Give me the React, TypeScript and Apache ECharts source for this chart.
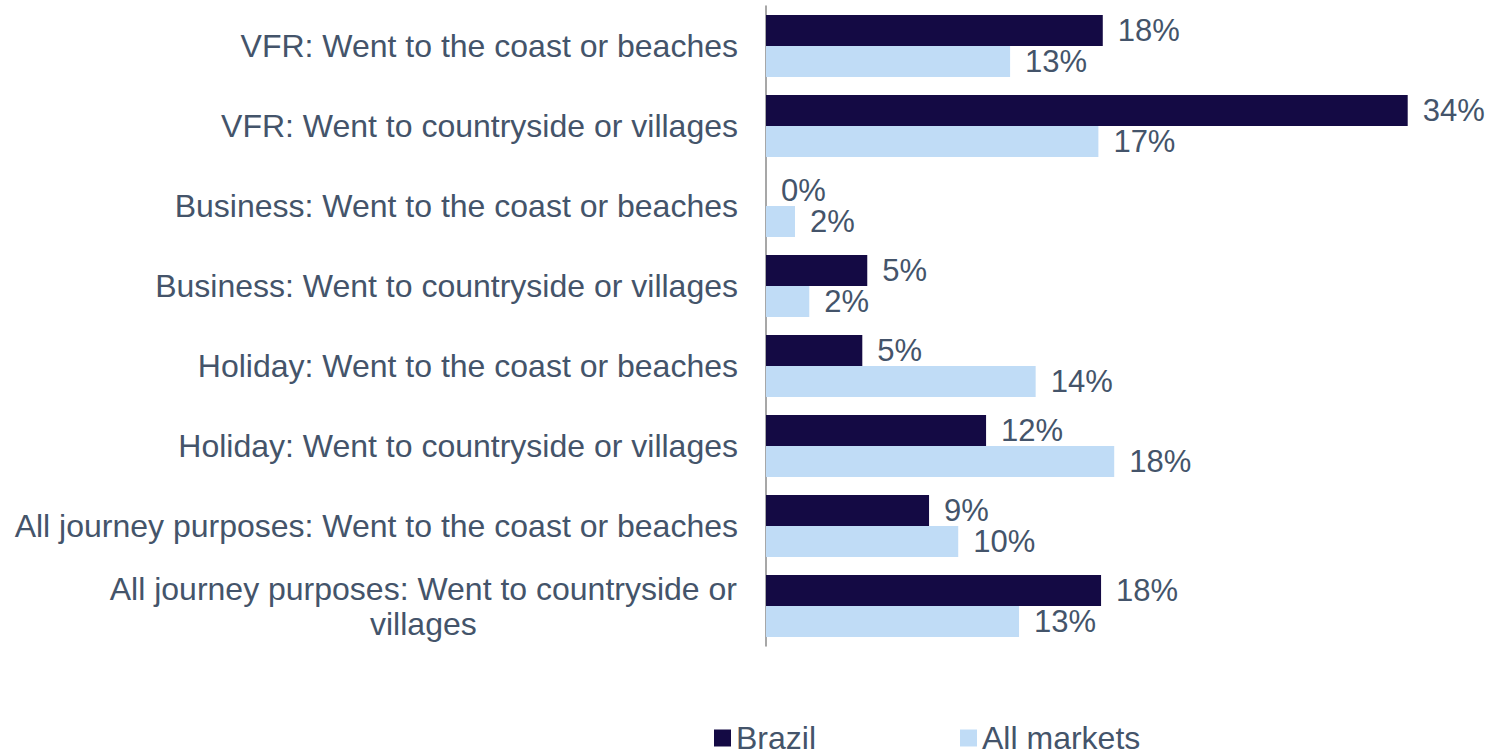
import React, { useEffect, useRef } from 'react';
import * as echarts from 'echarts';

const categories = [
  'VFR: Went to the coast or beaches',
  'VFR: Went to countryside or villages',
  'Business: Went to the coast or beaches',
  'Business: Went to countryside or villages',
  'Holiday: Went to the coast or beaches',
  'Holiday: Went to countryside or villages',
  'All journey purposes: Went to the coast or beaches',
  'All journey purposes: Went to countryside or villages',
];
const seriesNames = ['Brazil', 'All markets'];
const brazil = [17.66, 33.65, 0, 5.31, 5.05, 11.54, 8.55, 17.57];
const allMarkets = [12.8, 17.43, 1.52, 2.27, 14.14, 18.26, 10.08, 13.27];

const FONT = "'Liberation Sans', Arial, sans-serif";
const TEXT = '#44546A';
const DARK = '#140A44';
const LIGHT = '#C0DCF6';
const CAT_SIZE = 32;
const LABEL_SIZE = 31;
const MAX_LABEL_W = 735;

function measure(text: string, size: number): number {
  const ctx = document.createElement('canvas').getContext('2d');
  if (!ctx) return text.length * size * 0.5;
  ctx.font = `${size}px ${FONT}`;
  return ctx.measureText(text).width;
}

function wrapLabel(text: string, size: number, maxW: number): string[] {
  if (measure(text, size) <= maxW) return [text];
  const words = text.split(' ');
  const lines: string[] = [];
  let cur = '';
  for (const w of words) {
    const t = cur ? cur + ' ' + w : w;
    if (measure(t, size) > maxW && cur) {
      lines.push(cur);
      cur = w;
    } else cur = t;
  }
  lines.push(cur);
  return lines;
}

export default function App() {
  const ref = useRef<HTMLDivElement>(null);
  useEffect(() => {
    if (!ref.current) return;
    const chart = echarts.init(ref.current, null, { renderer: 'svg' });

    const rich: Record<string, any> = {};
    const formatted: Record<string, string> = {};
    categories.forEach((c, i) => {
      const lines = wrapLabel(c, CAT_SIZE, MAX_LABEL_W);
      if (lines.length === 1) {
        formatted[c] = c;
      } else {
        const w = Math.max(...lines.map((l) => measure(l, CAT_SIZE))) + 2;
        const key = 'w' + i;
        rich[key] = {
          width: w,
          align: 'center',
          fontSize: CAT_SIZE,
          lineHeight: 35,
          color: TEXT,
          fontFamily: FONT,
        };
        formatted[c] = lines.map((l) => `{${key}|${l}}`).join('\n');
      }
    });

    const labelOpt = {
      show: true,
      position: 'right',
      distance: 15,
      fontSize: LABEL_SIZE,
      fontFamily: FONT,
      color: TEXT,
      formatter: (p: any) => Math.round(p.value) + '%',
    };

    chart.setOption({
      animation: false,
      textStyle: { fontFamily: FONT },
      grid: { left: 766, top: 6, width: 35 * 19.07, height: 640, containLabel: false },
      xAxis: {
        type: 'value',
        min: 0,
        max: 35,
        show: false,
        splitLine: { show: false },
      },
      yAxis: {
        type: 'category',
        inverse: true,
        data: categories,
        axisLine: { show: true, lineStyle: { color: '#8A8A8A', width: 1.5 } },
        axisTick: { show: false },
        axisLabel: {
          margin: 28,
          fontSize: CAT_SIZE,
          fontFamily: FONT,
          color: TEXT,
          lineHeight: 35,
          formatter: (v: string) => formatted[v] ?? v,
          rich,
        },
      },
      legend: {
        data: seriesNames,
        left: 714,
        top: 722,
        padding: 0,
        icon: 'rect',
        itemWidth: 17,
        itemHeight: 17,
        itemGap: 144,
        textStyle: { fontSize: CAT_SIZE, color: TEXT, fontFamily: FONT },
      },
      series: [
        {
          name: seriesNames[0],
          type: 'bar',
          data: brazil,
          barGap: '0%',
          barCategoryGap: '22.5%',
          itemStyle: { color: DARK },
          label: labelOpt,
        },
        {
          name: seriesNames[1],
          type: 'bar',
          data: allMarkets,
          barGap: '0%',
          barCategoryGap: '22.5%',
          itemStyle: { color: LIGHT },
          label: labelOpt,
        },
      ],
    });
    return () => chart.dispose();
  }, []);
  return (
    <div
      ref={ref}
      style={{ position: 'fixed', left: 0, top: 0, width: 1493, height: 750, background: '#fff' }}
    />
  );
}
